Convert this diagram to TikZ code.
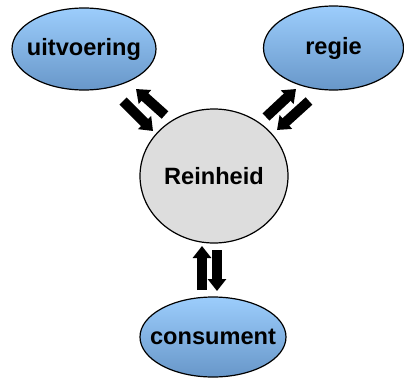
\documentclass[tikz,border=0pt]{standalone}
\usepackage{fontspec}
\setmainfont{Liberation Sans}
\usetikzlibrary{shapes.geometric,arrows.meta}
\definecolor{blueTop}{RGB}{156,205,252}
\definecolor{blueBot}{RGB}{104,151,201}
\definecolor{hubGray}{RGB}{221,221,221}
\tikzset{
  caption/.style={font=\fontsize{23.6}{28}\selectfont\bfseries, inner sep=0pt},
  topic/.style={ellipse, draw=black, line width=1.2pt, top color=blueTop, bottom color=blueBot,
    inner sep=0pt, label={[caption]center:#1}},
  hub/.style={ellipse, draw=black, line width=1.2pt, fill=hubGray,
    inner sep=0pt, label={[caption]center:#1}},
  flow/.style={line width=10pt, line cap=butt, -{Triangle[length=12pt,width=18pt]}}
}
\begin{document}
\begin{tikzpicture}[x=1pt,y=-1pt]
  \useasboundingbox (0,0) rectangle (404,383);
  % nodes
  \node[topic=uitvoering, minimum width=144pt, minimum height=82pt] (u) at (84,49) {};
  \node[topic=regie,      minimum width=140pt, minimum height=84pt] (r) at (333.5,48) {};
  \node[hub=Reinheid,     minimum width=148pt, minimum height=134pt] (c) at (214,176) {};
  \node[topic=consument,  minimum width=146pt, minimum height=80pt] (k) at (213,337) {};
  % arrow end points
  \coordinate (u1a) at (123,101);  \coordinate (u1b) at (153,131);
  \coordinate (u2a) at (165,115);  \coordinate (u2b) at (136,89);
  \coordinate (r1a) at (266,117);  \coordinate (r1b) at (296,89);
  \coordinate (r2a) at (309,101);  \coordinate (r2b) at (277,130);
  \coordinate (k1a) at (202,290);  \coordinate (k1b) at (202,246);
  \coordinate (k2a) at (217,250);  \coordinate (k2b) at (217,291);
  % flows between the topics and the hub
  \draw[flow] (u1a) -- (u1b);
  \draw[flow] (u2a) -- (u2b);
  \draw[flow] (r1a) -- (r1b);
  \draw[flow] (r2a) -- (r2b);
  \draw[flow] (k1a) -- (k1b);
  \draw[flow] (k2a) -- (k2b);
\end{tikzpicture}
\end{document}
